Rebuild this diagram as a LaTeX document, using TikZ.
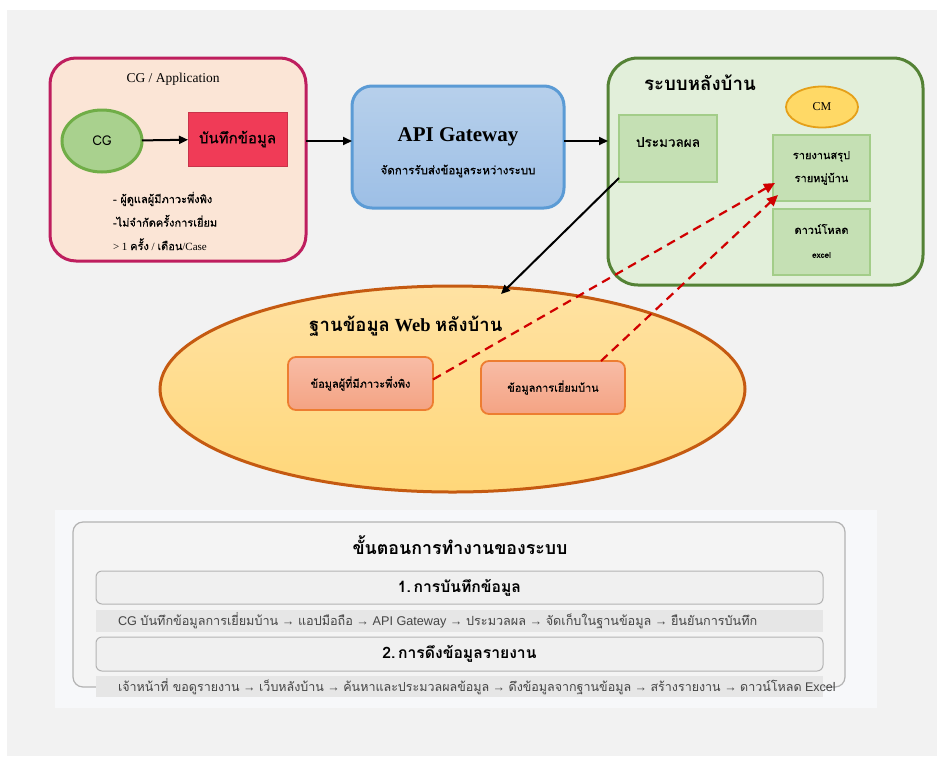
\documentclass[tikz,border=0pt]{standalone}
\usepackage{fontspec}
\setmainfont{Liberation Serif}
\setsansfont{Liberation Sans}
\newfontfamily\thai[Script=Thai]{Loma}
\newfontfamily\thaim[Script=Thai,FakeBold=0.6]{Loma}
\usetikzlibrary{arrows.meta,calc,shapes.geometric}

\newcommand\fsz[2]{\fontsize{#1}{#2}\selectfont}
\newcommand\tx[1]{{\thai #1}}
\newcommand\tm[1]{{\thaim #1}}

\definecolor{bggray}{HTML}{F2F2F2}
\definecolor{panel}{HTML}{F7F8FA}
\definecolor{appfill}{HTML}{FBE5D6}
\definecolor{appline}{HTML}{BE1E5E}
\definecolor{cgfill}{HTML}{A9D18E}
\definecolor{cgline}{HTML}{70AD47}
\definecolor{recfill}{HTML}{F03B57}
\definecolor{recline}{HTML}{C8334A}
\definecolor{apitop}{HTML}{B7D0EB}
\definecolor{apibot}{HTML}{9DBFE6}
\definecolor{apiline}{HTML}{5B9BD5}
\definecolor{backfill}{HTML}{E2EFDA}
\definecolor{backline}{HTML}{548235}
\definecolor{gfill}{HTML}{C5E0B4}
\definecolor{gline}{HTML}{A3CD89}
\definecolor{cmfill}{HTML}{FFD966}
\definecolor{cmline}{HTML}{E5A019}
\definecolor{dbtop}{HTML}{FFE2A3}
\definecolor{dbbot}{HTML}{FFD779}
\definecolor{dbline}{HTML}{C55A11}
\definecolor{ctop}{HTML}{F8BCA6}
\definecolor{cbot}{HTML}{F4A383}
\definecolor{cline}{HTML}{ED7D31}
\definecolor{redflow}{HTML}{D00000}
\definecolor{flowline}{HTML}{B3B3B3}
\definecolor{flowfill}{HTML}{F4F4F4}
\definecolor{secfill}{HTML}{F0F0F0}
\definecolor{bandfill}{HTML}{E6E6E6}
\definecolor{bandtext}{HTML}{444444}

\tikzset{
  plain/.style={inner sep=0pt, outer sep=0pt},
  arr/.style={line width=2pt, -{Triangle[length=9pt,width=8pt]}},
  redarr/.style={line width=2.2pt, redflow, dash pattern=on 9pt off 6pt,
                 -{Triangle[length=11pt,width=10pt]}},
  greenbox/.style={plain, draw=gline, fill=gfill, line width=1.5pt},
  datbox/.style={plain, draw=cline, line width=1.8pt, rounded corners=8pt,
                 top color=ctop, bottom color=cbot},
  secbox/.style={plain, draw=flowline, fill=secfill, line width=1pt, rounded corners=6pt},
  band/.style={plain, fill=bandfill},
}

\begin{document}
\begin{tikzpicture}[x=1pt,y=-1pt]
\useasboundingbox (0,0) rectangle (937,756);
\fill[white] (0,0) rectangle (937,756);
\fill[bggray] (7,10) rectangle (937,756);
\fill[panel] (55,510) rectangle (877,708);

% ---------- mobile application ----------
\node[plain, draw=appline, fill=appfill, line width=3pt, rounded corners=26pt,
      minimum width=256pt, minimum height=203pt] (app) at (178,159.5) {};
\node[plain, font=\fsz{13.5}{15}] (apptitle) at (173,79) {CG / Application};
\node[plain, ellipse, draw=cgline, fill=cgfill, line width=3pt,
      minimum width=80pt, minimum height=62pt, font=\fsz{13.5}{15}\thai] (cg) at (102,141) {CG};
\node[plain, draw=recline, fill=recfill, line width=1pt,
      minimum width=99pt, minimum height=54pt, font=\fsz{15}{17}\thaim] (rec) at (237.5,139) {บันทึกข้อมูล};
\node[plain, anchor=west, align=left, font=\fsz{11}{23.5}] (notes) at (113,221)
  {\tm{- ผู้ดูแลผู้มีภาวะพึ่งพิง}\\ \tm{-ไม่จำกัดครั้งการเยี่ยม}\\ > 1 \tm{ครั้ง} / \tm{เดือน}/Case};

% ---------- gateway ----------
\node[plain, draw=apiline, line width=3pt, rounded corners=20pt,
      top color=apitop, bottom color=apibot,
      minimum width=212pt, minimum height=122pt] (api) at (458,147) {};
\node[plain, font=\fsz{21}{24}\bfseries] (apititle) at (458,137) {API Gateway};
\node[plain, font=\fsz{11.5}{13}\thaim] (apisub) at (458,171) {จัดการรับส่งข้อมูลระหว่างระบบ};

% ---------- back office ----------
\node[plain, draw=backline, fill=backfill, line width=3pt, rounded corners=30pt,
      minimum width=315pt, minimum height=227pt] (back) at (765.5,171.5) {};
\node[plain, anchor=west, font=\fsz{18.7}{21}\thai\bfseries] (backtitle) at (644,83) {ระบบหลังบ้าน};
\node[plain, ellipse, draw=cmline, fill=cmfill, line width=1.8pt,
      minimum width=72pt, minimum height=41pt, font=\fsz{12}{14}] (cm) at (822,107) {CM};
\node[greenbox, minimum width=98pt, minimum height=67pt] (proc) at (668,148.5) {};
\node[plain, font=\fsz{13.5}{15}\thaim] (proctext) at (668,142) {ประมวลผล};
\node[greenbox, minimum width=97pt, minimum height=66pt] (rep) at (821.5,168) {};
\node[plain, align=center, font=\fsz{11}{23}\thaim] (reptext) at (821.5,168) {รายงานสรุป\\รายหมู่บ้าน};
\node[greenbox, minimum width=97pt, minimum height=66pt] (dl) at (821.5,242) {};
\node[plain, font=\fsz{11}{13}\thaim] (dltext) at (821.5,229) {ดาวน์โหลด};
\node[plain, font=\fsz{8}{10}\thaim] (dlexcel) at (821.5,255) {excel};

% ---------- database ----------
\node[plain, ellipse, draw=dbline, line width=3pt, top color=dbtop, bottom color=dbbot,
      minimum width=585pt, minimum height=206pt] (db) at (452.5,389) {};
\node[plain, font=\fsz{18.5}{21}\bfseries] (dbtitle) at (406,326) {\tx{ฐานข้อมูล} Web \tx{หลังบ้าน}};
\node[datbox, minimum width=145pt, minimum height=53pt, font=\fsz{11}{13}\thaim] (dep) at (360.5,383.5) {ข้อมูลผู้ที่มีภาวะพึ่งพิง};
\node[datbox, minimum width=144pt, minimum height=53pt, font=\fsz{11}{13}\thaim] (vis) at (553,387.5) {ข้อมูลการเยี่ยมบ้าน};

% ---------- connectors ----------
\draw[arr] (cg) -- (rec);
\draw[arr] (app.east |- cg) -- (api.west |- cg);
\draw[arr] (api.east |- cg) -- (back.west |- cg);
\coordinate (dbhit) at (501,294);
\draw[arr] ($(proc.south west)+(0,-4)$) -- (dbhit);
\draw[redarr] ($(dep.east)+(0,-4)$) -- ($(rep.west)+(2,15)$);
\draw[redarr] ($(vis.north east)+(-24,0)$) -- ($(rep.south west)+(5,-6)$);

% ---------- workflow summary ----------
\node[plain, draw=flowline, fill=flowfill, line width=1.2pt, rounded corners=10pt,
      minimum width=772pt, minimum height=165pt] (flow) at (459,604.5) {};
\node[plain, font=\fsz{17.8}{20}\thai\bfseries] (flowtitle) at (460,545) {ขั้นตอนการทำงานของระบบ};
\node[secbox, minimum width=727pt, minimum height=33pt, font=\fsz{15.7}{18}\thai\bfseries] (sec1) at (459.5,587.5) {1.\,การบันทึกข้อมูล};
\node[band, minimum width=727pt, minimum height=22pt] (band1) at (459.5,621) {};
\node[plain, anchor=west, text=bandtext, font=\fsz{12.65}{14}\sffamily] (step1) at (118,621)
  {CG \tx{บันทึกข้อมูลการเยี่ยมบ้าน} → \tx{แอปมือถือ} → API Gateway → \tx{ประมวลผล} → \tx{จัดเก็บในฐานข้อมูล} → \tx{ยืนยันการบันทึก}};
\node[secbox, minimum width=727pt, minimum height=34pt, font=\fsz{15.7}{18}\thai\bfseries] (sec2) at (459.5,654) {2.\,การดึงข้อมูลรายงาน};
\node[band, minimum width=727pt, minimum height=21pt] (band2) at (459.5,686.5) {};
\node[plain, anchor=west, text=bandtext, font=\fsz{12.5}{14}\sffamily] (step2) at (118,687)
  {\tx{เจ้าหน้าที่ ขอดูรายงาน} → \tx{เว็บหลังบ้าน} → \tx{ค้นหาและประมวลผลข้อมูล} → \tx{ดึงข้อมูลจากฐานข้อมูล} → \tx{สร้างรายงาน} → \tx{ดาวน์โหลด} Excel};
\end{tikzpicture}
\end{document}
